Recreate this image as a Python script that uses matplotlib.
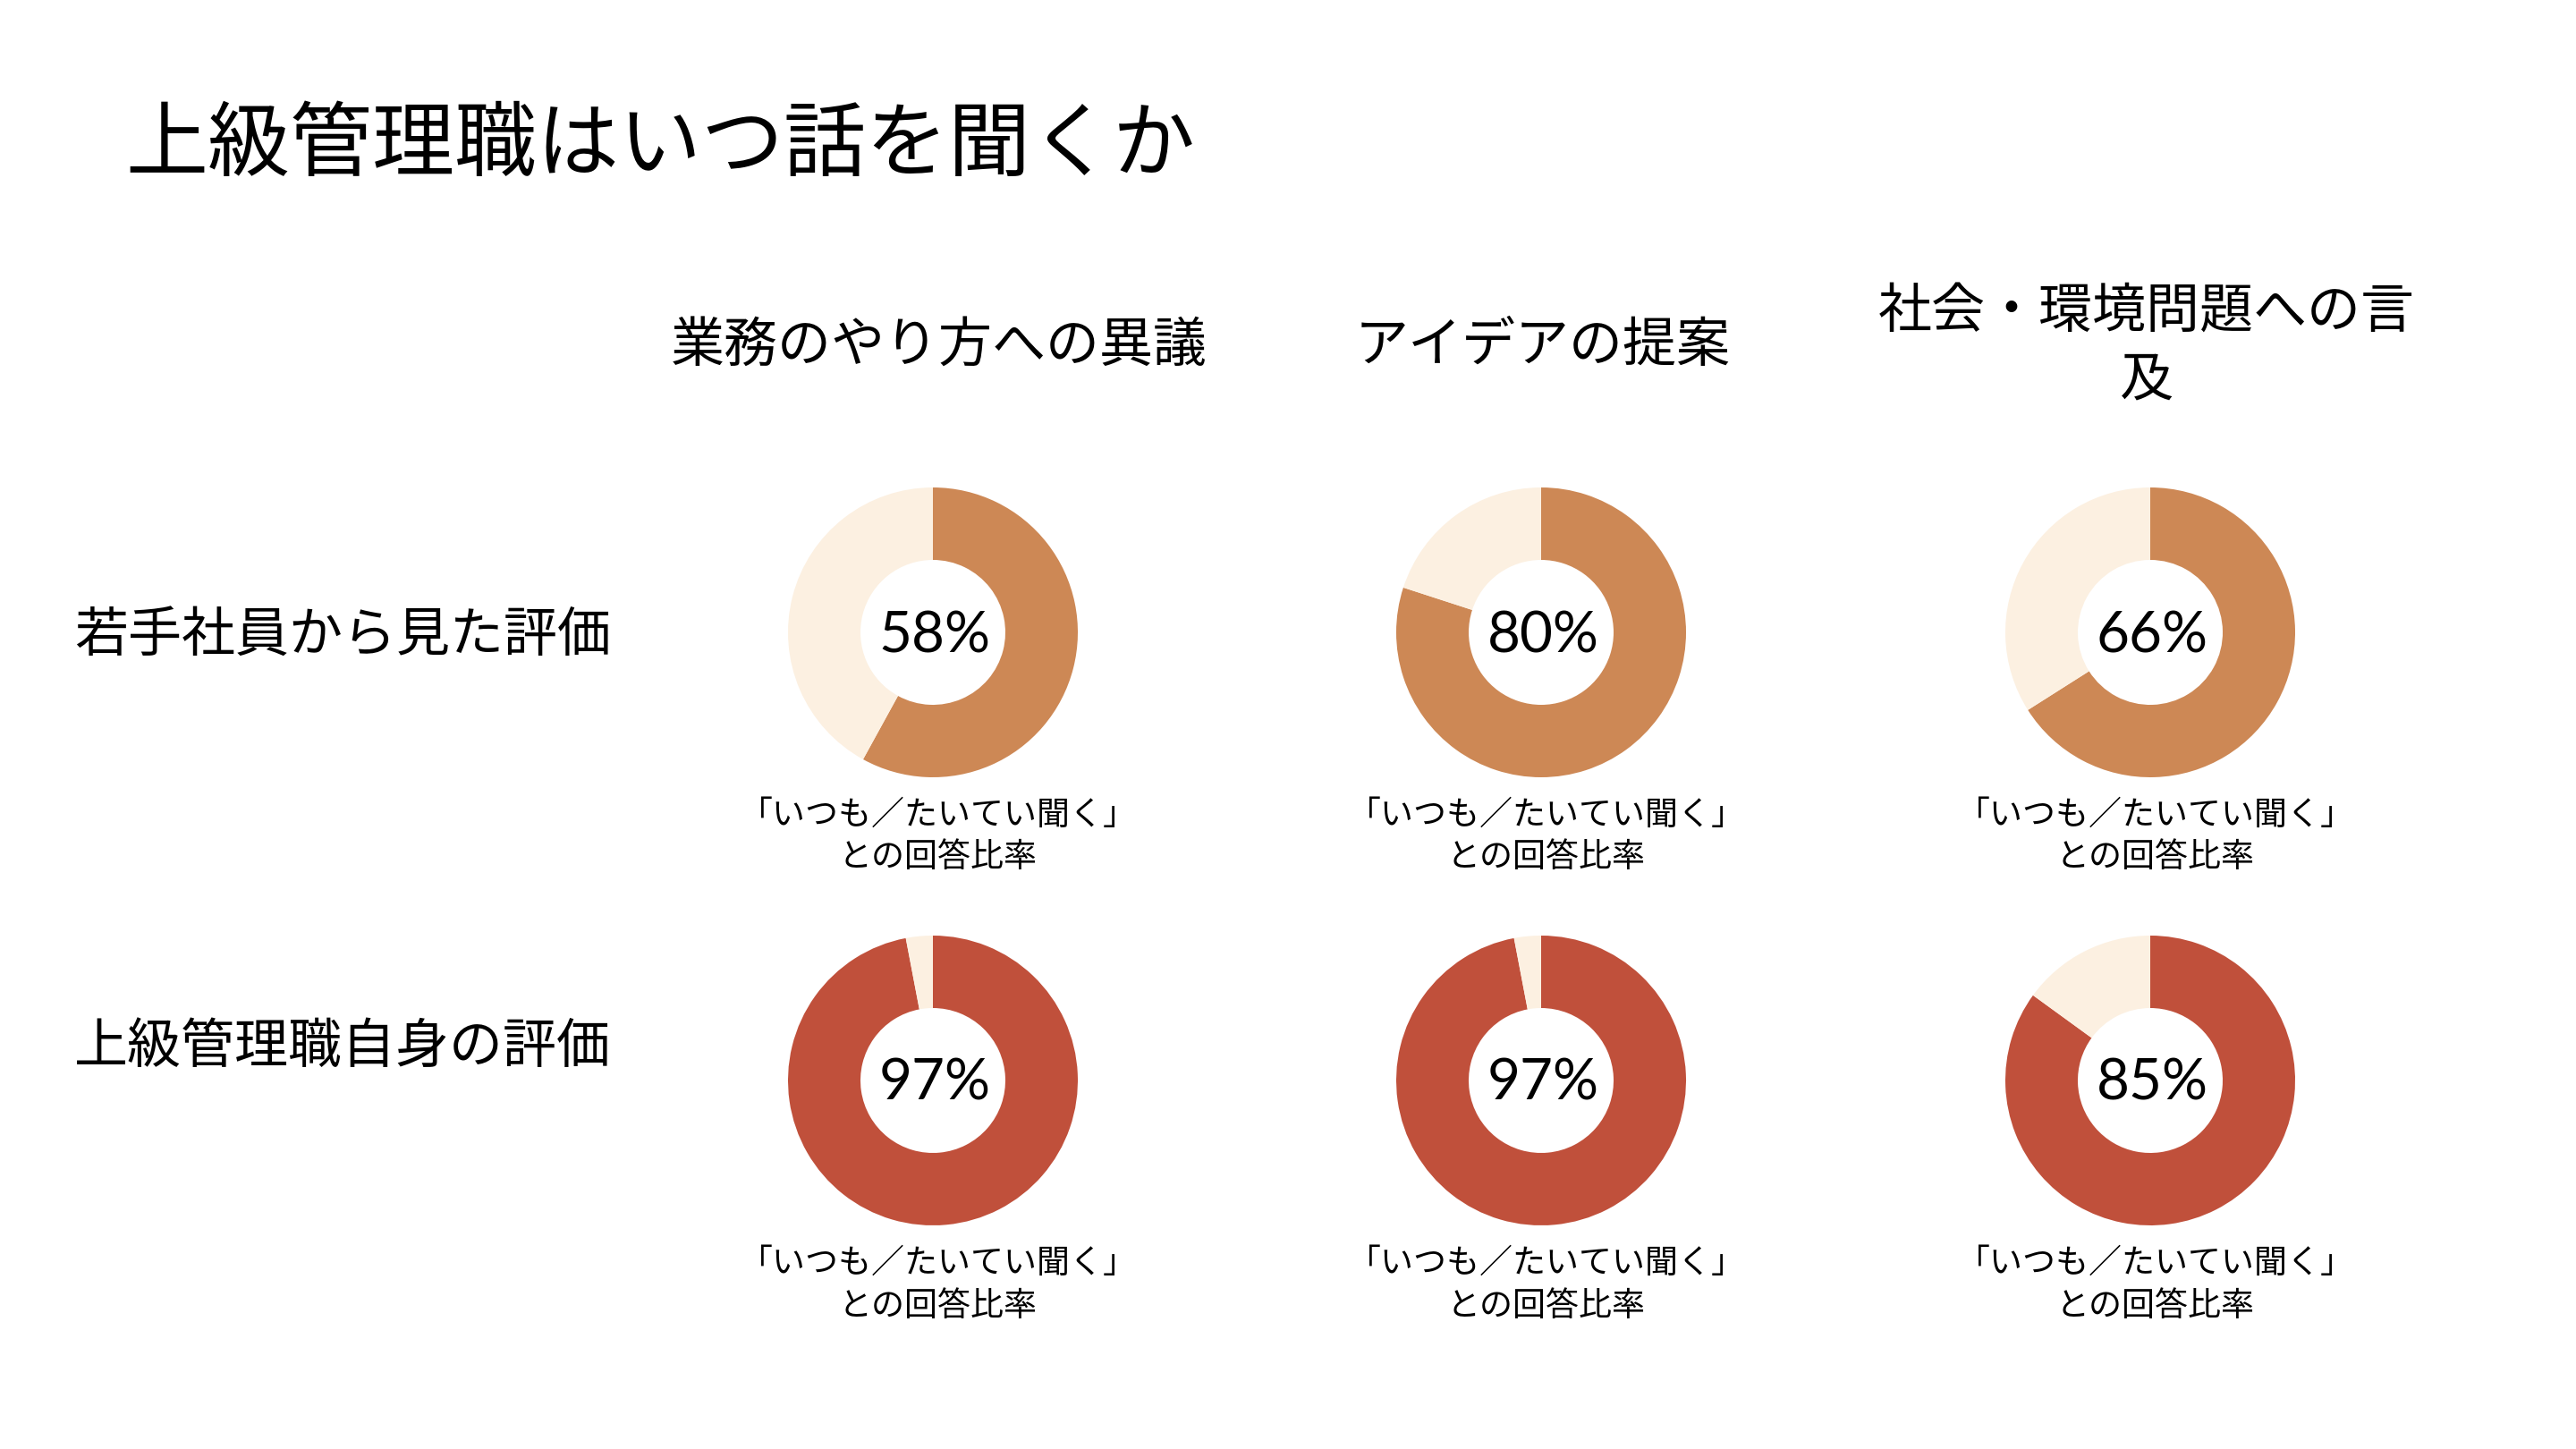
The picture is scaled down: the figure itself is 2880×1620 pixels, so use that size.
import matplotlib
matplotlib.use("Agg")
import matplotlib.pyplot as plt

plt.rcParams['font.family'] = ['Noto Sans CJK JP', 'DejaVu Sans']

# データ
title = "上級管理職はいつ話を聞くか"
categories = ["業務のやり方への異議", "アイデアの提案", "社会・環境問題への言\n及"]
row_labels = ["若手社員から見た評価", "上級管理職自身の評価"]
young_staff = [58, 80, 66]
senior_mgmt = [97, 97, 85]
caption = "「いつも／たいてい聞く」\nとの回答比率"

row_colors = ["#CD8855", "#C0503B"]
rest_color = "#FCF0E1"

W, H = 2880, 1620
fig = plt.figure(figsize=(16, 9), dpi=180)
ax = fig.add_axes([0, 0, 1, 1])
ax.set_xlim(0, W)
ax.set_ylim(0, H)
ax.set_aspect('equal')
ax.axis('off')

col_x = [1043, 1723, 2404]
head_dx = [7, 2, -4]
row_y = [H - 707, H - 1208]
label_y = [H - 711, H - 1171]
r_out = 162

ax.text(140, H - 164, title, fontsize=36.8, ha='left', va='center')

for x, dx, cat in zip(col_x, head_dx, categories):
    ax.text(x + dx, H - 387, cat, fontsize=24, ha='center', va='center',
            multialignment='center', linespacing=1.3)

for i, (vals, label) in enumerate(zip([young_staff, senior_mgmt], row_labels)):
    y = row_y[i]
    ax.text(83, label_y[i], label, fontsize=24, ha='left', va='center')
    for x, v in zip(col_x, vals):
        ax.pie([v, 100 - v], colors=[row_colors[i], rest_color], startangle=90,
               counterclock=False, center=(x, y), radius=r_out,
               wedgeprops=dict(width=r_out / 2, linewidth=0))
        ax.text(x + 2, y - 4, f"{v}%", fontsize=25.5, ha='center', va='center',
                family=['Lato', 'DejaVu Sans'])
        ax.text(x + 6, y - 228, caption, fontsize=14.8, ha='center', va='center',
                multialignment='center', linespacing=1.3)

ax.set_xlim(0, W)
ax.set_ylim(0, H)

fig.savefig("out.png", dpi=180, facecolor='white')
